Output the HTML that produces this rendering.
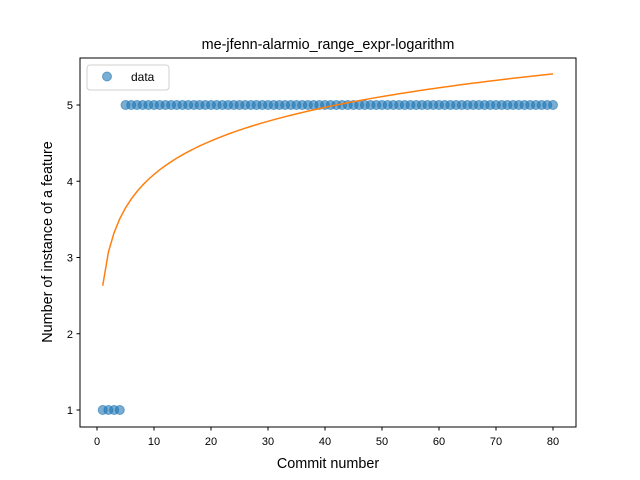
<!DOCTYPE html>
<html><head><meta charset="utf-8"><style>
html,body{margin:0;padding:0;background:#fff;}
svg{display:block;font-family:"Liberation Sans","DejaVu Sans",sans-serif;}
</style></head><body>
<svg id="chart" width="640" height="480" viewBox="0 0 640 480" xmlns="http://www.w3.org/2000/svg">
<rect width="640" height="480" fill="#fff"/>
<text x="328" y="49" font-size="14.4" text-anchor="middle">me-jfenn-alarmio_range_expr-logarithm</text>
<g id="plot"></g>
<rect x="80" y="58" width="496" height="369" fill="none" stroke="#000" stroke-width="1"/>
<text x="328" y="468" font-size="14.4" text-anchor="middle">Commit number</text>
<text transform="translate(52,242) rotate(-90)" font-size="14.4" text-anchor="middle">Number of instance of a feature</text>
<g>
<rect x="87" y="65" width="82" height="25" rx="3" fill="#fff" stroke="#ccc" opacity="0.9"/>
<circle cx="107" cy="76.5" r="4.5" fill="#1f77b4" fill-opacity="0.6" stroke="#1f77b4" stroke-opacity="0.6"/>
<text x="131" y="81" font-size="12">data</text>
</g>
</svg>
<script>
const xValues = [1,2,3,4,5,6,7,8,9,10,11,12,13,14,15,16,17,18,19,20,21,22,23,24,25,26,27,28,29,30,31,32,33,34,35,36,37,38,39,40,41,42,43,44,45,46,47,48,49,50,51,52,53,54,55,56,57,58,59,60,61,62,63,64,65,66,67,68,69,70,71,72,73,74,75,76,77,78,79,80];
const yValues = [1,1,1,1,5,5,5,5,5,5,5,5,5,5,5,5,5,5,5,5,5,5,5,5,5,5,5,5,5,5,5,5,5,5,5,5,5,5,5,5,5,5,5,5,5,5,5,5,5,5,5,5,5,5,5,5,5,5,5,5,5,5,5,5,5,5,5,5,5,5,5,5,5,5,5,5,5,5,5,5];
const fitParams = [2.63, 0.634];
const xTicks = [0,10,20,30,40,50,60,70,80];
const yTicks = [1,2,3,4,5];

const NS="http://www.w3.org/2000/svg";
const g=document.getElementById('plot');
const sx=v=>97+v*(553-97)/80;
const sy=v=>410-(v-1)*(410-105)/4;
function mk(t,a){const e=document.createElementNS(NS,t);for(const k in a)e.setAttribute(k,a[k]);g.appendChild(e);return e;}
xTicks.forEach(t=>{
  const l=mk('line',{x1:sx(t),x2:sx(t),y1:427,y2:430.5,stroke:'#000'});
  
  
  const tx=mk('text',{x:sx(t),y:445,'font-size':'11','text-anchor':'middle'});
  tx.textContent=t;
  
  
});
yTicks.forEach(t=>{
  const l=mk('line',{x1:76.5,x2:80,y1:sy(t),y2:sy(t),stroke:'#000'});
  
  
  const tx=mk('text',{x:73,y:sy(t)+4,'font-size':'11','text-anchor':'end'});
  tx.textContent=t;
  
  
});
xValues.forEach((x,i)=>{
  const c=mk('circle',{cx:sx(x),cy:sy(yValues[i]),r:4.5,fill:'#1f77b4','fill-opacity':0.6,stroke:'#1f77b4','stroke-opacity':0.6});
  
  
});
const pts=xValues.map(x=>sx(x).toFixed(2)+','+sy(fitParams[0]+fitParams[1]*Math.log(x)).toFixed(2)).join(' ');
const pl=mk('polyline',{points:pts,fill:'none',stroke:'#ff7f0e','stroke-width':1.5});


</script>
</body></html>
